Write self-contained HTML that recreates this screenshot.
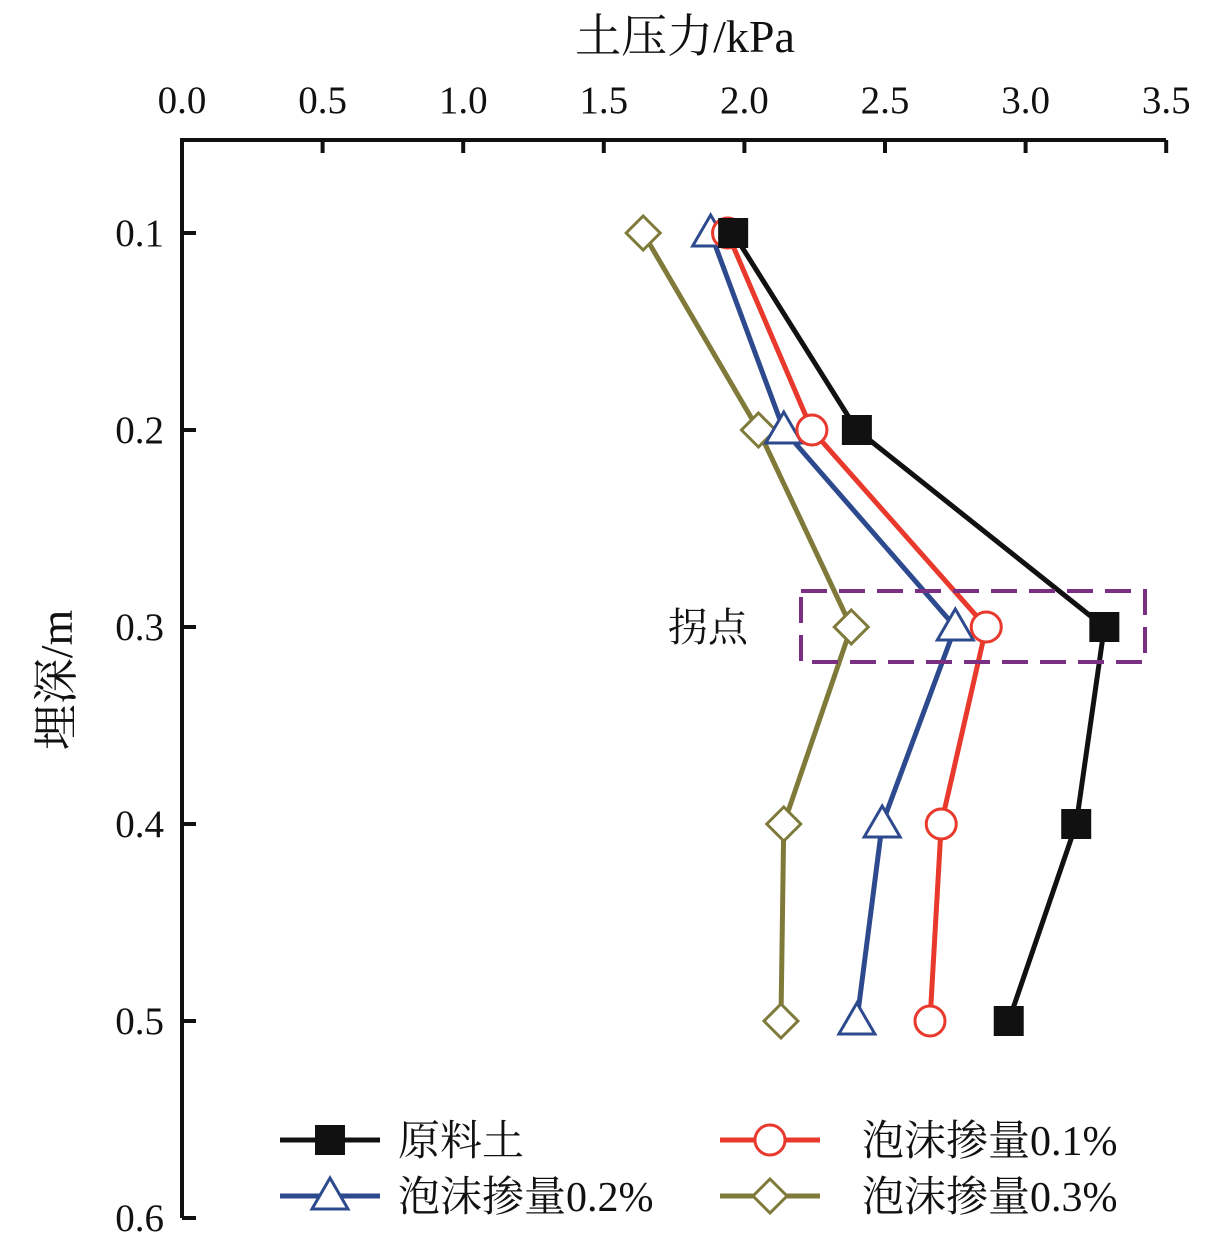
<!DOCTYPE html>
<html><head><meta charset="utf-8"><style>
body{margin:0;background:#fff}
svg text{font-family:"Liberation Serif","Noto Serif CJK SC",serif;fill:#111}
</style></head><body>
<svg id="chart" width="1212" height="1251" xmlns="http://www.w3.org/2000/svg">
<g id="axes"></g><g id="series"></g>
<rect x="801" y="591" width="344" height="71" fill="none" stroke="#7b2f82" stroke-width="4" stroke-dasharray="26,12"/>
<text x="668" y="641" font-size="40">拐点</text>
<text x="685" y="52" font-size="46" text-anchor="middle">土压力/kPa</text>
<text transform="translate(72,680) rotate(-90)" font-size="46" text-anchor="middle">埋深/m</text>
<g id="legend"></g>
</svg>
<script>
const xTicks=[0,0.5,1.0,1.5,2.0,2.5,3.0,3.5];
const yTicks=[0.1,0.2,0.3,0.4,0.5,0.6];
const depths=[0.1,0.2,0.3,0.4,0.5];
const rawSoil=[1.96,2.40,3.28,3.18,2.94];
const foam01=[1.94,2.24,2.86,2.70,2.66];
const foam02=[1.88,2.14,2.75,2.49,2.40];
const foam03=[1.64,2.05,2.38,2.14,2.13];
const NS="http://www.w3.org/2000/svg";
const X=v=>182+v*281.2;
const Y=d=>233+(d-0.1)*1970;
function mk(tag,attrs,parent){const e=document.createElementNS(NS,tag);for(const k in attrs)e.setAttribute(k,attrs[k]);parent.appendChild(e);return e;}
const axes=document.getElementById('axes');
let a=mk('path',{d:`M182,1218 V140 H1166`,fill:'none',stroke:'#111','stroke-width':4},axes);


xTicks.forEach(v=>{
 let t=mk('line',{x1:X(v),x2:X(v),y1:140,y2:153,stroke:'#111','stroke-width':4},axes);
 
 
 let l=mk('text',{x:X(v),y:113,'font-size':39,'text-anchor':'middle'},axes);l.textContent=v.toFixed(1);
 
 
});
yTicks.forEach(v=>{
 let t=mk('line',{x1:182,x2:196,y1:Y(v),y2:Y(v),stroke:'#111','stroke-width':4},axes);
 
 
 let l=mk('text',{x:164,y:Y(v)+13,'font-size':39,'text-anchor':'end'},axes);l.textContent=v.toFixed(1);
 
 
});
function marker(type,x,y,color,g){
 let e;
 if(type==='sq')e=mk('rect',{x:x-15,y:y-15,width:30,height:30,fill:'#111'},g);
 else if(type==='ci')e=mk('circle',{cx:x,cy:y,r:15,fill:'#fff',stroke:color,'stroke-width':3},g);
 else if(type==='tri')e=mk('polygon',{points:`${x},${y-18} ${x-18},${y+13} ${x+18},${y+13}`,fill:'#fff',stroke:color,'stroke-width':3},g);
 else e=mk('polygon',{points:`${x},${y-17} ${x+17},${y} ${x},${y+17} ${x-17},${y}`,fill:'#fff',stroke:color,'stroke-width':3},g);
 return e;
}
const series=[[foam03,'#7f7a3a','dia','foam-0.3'],[foam02,'#2e4a8e','tri','foam-0.2'],[foam01,'#e8392c','ci','foam-0.1'],[rawSoil,'#111','sq','raw-soil']];
const sg=document.getElementById('series');
series.forEach(([vals,c,m,n])=>{
 const p=mk('polyline',{points:vals.map((v,i)=>X(v)+','+Y(depths[i])).join(' '),fill:'none',stroke:c,'stroke-width':5},sg);
 
 
 vals.forEach((v,i)=>{const e=marker(m,X(v),Y(depths[i]),c,sg);
  
  });
});
const lg=document.getElementById('legend');
[[280,1140,'#111','sq','原料土','legend-raw-soil'],[720,1140,'#e8392c','ci','泡沫掺量0.1%','legend-foam-0.1'],[280,1196,'#2e4a8e','tri','泡沫掺量0.2%','legend-foam-0.2'],[720,1196,'#7f7a3a','dia','泡沫掺量0.3%','legend-foam-0.3']].forEach(([x,y,c,m,t,n])=>{
 const g=mk('g',{},lg);
 
 
 mk('line',{x1:x,x2:x+100,y1:y,y2:y,stroke:c,'stroke-width':5},g);
 marker(m,x+50,y,c,g);
 const tx=mk('text',{x:m==='ci'||m==='dia'?x+142:x+118,y:y+15,'font-size':42},g);tx.textContent=t;
});
</script>
</body></html>
